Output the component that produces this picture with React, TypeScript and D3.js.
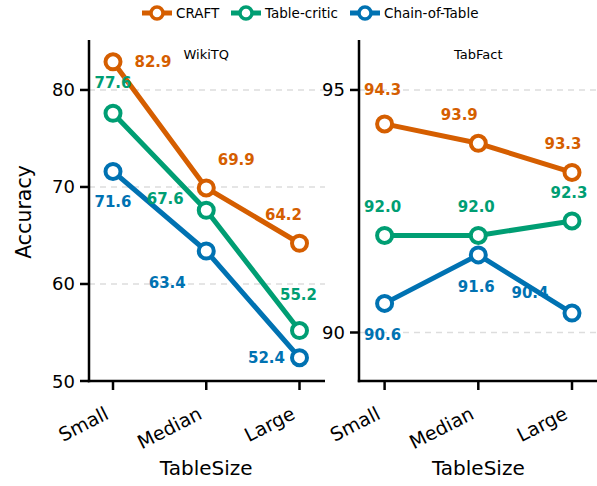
import React from "react";
import * as d3 from "d3";

const categories = ["Small", "Median", "Large"];
const seriesNames = ["CRAFT", "Table-critic", "Chain-of-Table"];
const colors = ["#D55E00", "#009E73", "#0072B2"];
const wikiTQ = [
  [82.9, 69.9, 64.2],
  [77.6, 67.6, 55.2],
  [71.6, 63.4, 52.4],
];
const tabFact = [
  [94.3, 93.9, 93.3],
  [92.0, 92.0, 92.3],
  [90.6, 91.6, 90.4],
];
const wikiTicks = [50, 60, 70, 80];
const tabTicks = [90, 95];

// label offsets (layout, px) per series per category
const wikiOffsets = [
  [[40, 0], [30, -28], [-16, -28]],
  [[0, -30], [-41, -11], [-1, -36]],
  [[0, 31], [-39, 32], [-33, 0]],
];
const tabOffsets = [
  [[-2, -34], [-19, -28], [-9, -28]],
  [[-2, -28], [-2, -28], [-3, -28]],
  [[-2, 32], [-2, 32], [-42, -20]],
];

const FONT = "DejaVu Sans, sans-serif";

function Panel({ data, offsets, ticks, yDomain, x0, x1, xr0, xr1, title }: any) {
  const top = 40;
  const bottom = 381;
  const x = d3.scaleLinear().domain([0, 2]).range([xr0, xr1]);
  const y = d3.scaleLinear().domain(yDomain).range([bottom, top]);
  const line = d3
    .line<number>()
    .x((_, i) => x(i))
    .y((d) => y(d));
  return (
    <g>
      {ticks.map((t: number) => (
        <line key={"g" + t} x1={x0} x2={x1} y1={y(t)} y2={y(t)} stroke="#dddddd" strokeWidth={1.5} strokeDasharray="6,5" />
      ))}
      {data.map((s: number[], si: number) => (
        <path key={"l" + si} d={line(s) || ""} fill="none" stroke={colors[si]} strokeWidth={5} strokeLinejoin="round" />
      ))}
      {data.map((s: number[], si: number) =>
        s.map((v, i) => (
          <circle key={"c" + si + i} cx={x(i)} cy={y(v)} r={7.5} fill="white" stroke={colors[si]} strokeWidth={4} />
        ))
      )}
      {data.map((s: number[], si: number) =>
        s.map((v, i) => (
          <text
            key={"t" + si + i}
            x={x(i) + offsets[si][i][0]}
            y={y(v) + offsets[si][i][1]}
            fill={colors[si]}
            fontSize={15}
            fontWeight="bold"
            textAnchor="middle"
            dominantBaseline="central"
            fontFamily={FONT}
          >
            {v.toFixed(1)}
          </text>
        ))
      )}
      <text x={x(1)} y={54} textAnchor="middle" dominantBaseline="central" fontSize={13} fontFamily={FONT}>
        {title}
      </text>
      <line x1={x0} x2={x0} y1={top} y2={bottom + 1.2} stroke="black" strokeWidth={2.5} />
      <line x1={x0 - 1.2} x2={x1} y1={bottom} y2={bottom} stroke="black" strokeWidth={2.5} />
      {ticks.map((t: number) => (
        <g key={"yt" + t}>
          <line x1={x0 - 9} x2={x0} y1={y(t)} y2={y(t)} stroke="black" strokeWidth={2.5} />
          <text x={x0 - 14} y={y(t)} textAnchor="end" dominantBaseline="central" fontSize={18} fontFamily={FONT}>
            {t}
          </text>
        </g>
      ))}
      {categories.map((c, i) => (
        <g key={"xt" + c}>
          <line x1={x(i)} x2={x(i)} y1={bottom} y2={bottom + 9} stroke="black" strokeWidth={2.5} />
          <text
            transform={`translate(${x(i) - 3},${bottom + 37}) rotate(-27)`}
            textAnchor="end"
            fontSize={19}
            fontFamily={FONT}
          >
            {c}
          </text>
        </g>
      ))}
      <text x={x(1)} y={475} textAnchor="middle" fontSize={20} fontFamily={FONT}>
        TableSize
      </text>
    </g>
  );
}

export default function App() {
  const legendX = [142, 231, 350];
  return (
    <svg width={597} height={486} style={{ position: "absolute", left: 0, top: 0, background: "white" }}>
      <rect width={597} height={486} fill="white" />
      <Panel data={wikiTQ} offsets={wikiOffsets} ticks={wikiTicks} yDomain={[50, 85.15]} x0={89} x1={325} xr0={113} xr1={299.5} title="WikiTQ" />
      <Panel data={tabFact} offsets={tabOffsets} ticks={tabTicks} yDomain={[89, 96.03]} x0={359} x1={598} xr0={384.6} xr1={572} title="TabFact" />
      <text transform="translate(31,212) rotate(-90)" textAnchor="middle" fontSize={20.5} fontFamily={FONT}>
        Accuracy
      </text>
      {seriesNames.map((n, i) => (
        <g key={n}>
          <line x1={legendX[i]} x2={legendX[i] + 30} y1={13} y2={13} stroke={colors[i]} strokeWidth={5} />
          <circle cx={legendX[i] + 15} cy={13} r={6} fill="white" stroke={colors[i]} strokeWidth={3.5} />
          <text x={legendX[i] + 34} y={13} dominantBaseline="central" fontSize={13.5} fontFamily={FONT}>
            {n}
          </text>
        </g>
      ))}
    </svg>
  );
}
